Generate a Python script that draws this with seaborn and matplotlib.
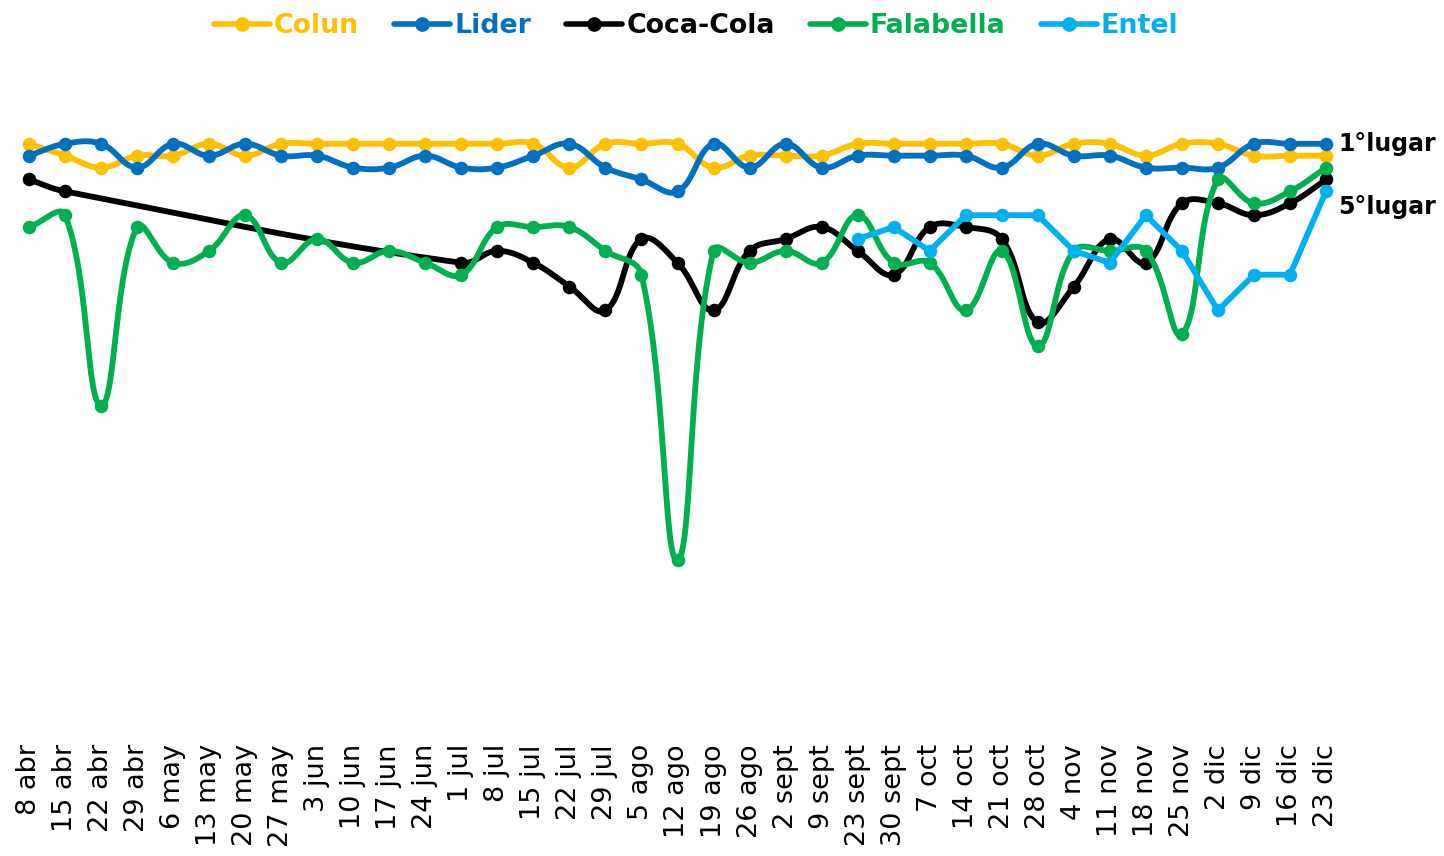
import numpy as np
import pandas as pd
import matplotlib
matplotlib.use("Agg")
import matplotlib.pyplot as plt
import seaborn as sns
from matplotlib.lines import Line2D

# -------------------
# DATA (weekly ranking position, 1 = first place)
# -------------------
weeks = ["8 abr", "15 abr", "22 abr", "29 abr", "6 may", "13 may", "20 may", "27 may",
         "3 jun", "10 jun", "17 jun", "24 jun", "1 jul", "8 jul", "15 jul", "22 jul",
         "29 jul", "5 ago", "12 ago", "19 ago", "26 ago", "2 sept", "9 sept", "23 sept",
         "30 sept", "7 oct", "14 oct", "21 oct", "28 oct", "4 nov", "11 nov", "18 nov",
         "25 nov", "2 dic", "9 dic", "16 dic", "23 dic"]

nan = np.nan
colun = [1, 2, 3, 2, 2, 1, 2, 1, 1, 1, 1, 1, 1, 1, 1, 3, 1, 1, 1, 3, 2, 2, 2, 1,
         1, 1, 1, 1, 2, 1, 1, 2, 1, 1, 2, 2, 2]
lider = [2, 1, 1, 3, 1, 2, 1, 2, 2, 3, 3, 2, 3, 3, 2, 1, 3, 4, 5, 1, 3, 1, 3, 2,
         2, 2, 2, 3, 1, 2, 2, 3, 3, 3, 1, 1, 1]
coca_cola = [4, 5, nan, nan, nan, nan, nan, nan, nan, nan, nan, nan, 11, 10, 11, 13,
             15, 9, 11, 15, 10, 9, 8, 10, 12, 8, 8, 9, 16, 13, 9, 11, 6, 6, 7, 6, 4]
falabella = [8, 7, 23, 8, 11, 10, 7, 11, 9, 11, 10, 11, 12, 8, 8, 8, 10, 12, 36, 10,
             11, 10, 11, 7, 11, 11, 15, 10, 18, 10, 10, 10, 17, 4, 6, 5, 3]
entel = [nan] * 23 + [9, 8, 10, 7, 7, 7, 10, 11, 7, 10, 15, 12, 12, 5]

brands = ["Colun", "Lider", "Coca-Cola", "Falabella", "Entel"]
series = [colun, lider, coca_cola, falabella, entel]
colors = ["#FFC000", "#0070C0", "#000000", "#00B050", "#00B0F0"]
tensions = [0.4, 0.4, 0.4, 0.4, 0.0]   # Entel is drawn with straight segments


# -------------------
# SMOOTH CURVE (bezier with tension, like the original chart)
# -------------------
def smooth(x, y, tension=0.4, sx=36.0, sy=11.9, steps=30):
    p = np.column_stack([np.asarray(x, float) * sx, np.asarray(y, float) * sy])
    n = len(p)
    cp_in = p.copy()
    cp_out = p.copy()
    for i in range(n):
        prev = p[i - 1] if i > 0 else p[i]
        nxt = p[i + 1] if i < n - 1 else p[i]
        d01 = np.hypot(*(p[i] - prev))
        d12 = np.hypot(*(nxt - p[i]))
        tot = d01 + d12
        s01 = d01 / tot if tot else 0
        s12 = d12 / tot if tot else 0
        cp_in[i] = p[i] - tension * s01 * (nxt - prev)
        cp_out[i] = p[i] + tension * s12 * (nxt - prev)
    t = np.linspace(0, 1, steps)[:, None]
    pts = [p[:1]]
    for i in range(n - 1):
        b = ((1 - t) ** 3 * p[i] + 3 * (1 - t) ** 2 * t * cp_out[i]
             + 3 * (1 - t) * t ** 2 * cp_in[i + 1] + t ** 3 * p[i + 1])
        pts.append(b[1:])
    pts = np.vstack(pts)
    return pts[:, 0] / sx, pts[:, 1] / sy


# -------------------
# PLOT
# -------------------
sns.set_theme(style="white")
plt.rcParams["font.family"] = ["DejaVu Sans"]

fig = plt.figure(figsize=(14.44, 8.56), dpi=100)
ax = fig.add_axes([29 / 1444, 116 / 856, 1297 / 1444, 670 / 856])

for k, (name, vals, col, ten) in enumerate(zip(brands, series, colors, tensions)):
    df = pd.DataFrame({"week": np.arange(len(weeks)), "rank": vals}).dropna()
    cx, cy = smooth(df["week"].values, df["rank"].values, tension=ten)
    curve = pd.DataFrame({"x": cx, "y": cy})
    sns.lineplot(data=curve, x="x", y="y", sort=False, estimator=None, color=col,
                 lw=4.2, ax=ax, legend=False, zorder=2 + 2 * k, clip_on=False)
    sns.scatterplot(data=df, x="week", y="rank", color=col, s=95, linewidth=0,
                    ax=ax, legend=False, zorder=3 + 2 * k, clip_on=False)

ax.set_xlim(0, len(weeks) - 1)
ax.set_ylim(51.1, -5.2)
ax.set_xticks(range(len(weeks)))
ax.set_xticklabels(weeks, rotation=90, fontsize=19.5, color="black")
ax.tick_params(axis="x", length=0, pad=3)
ax.set_yticks([])
ax.set_xlabel("")
ax.set_ylabel("")
for s in ax.spines.values():
    s.set_visible(False)

ax.annotate("1°lugar", xy=(len(weeks) - 1, 1), xytext=(9, 0), textcoords="offset points",
            ha="left", va="center", fontsize=17, fontweight="bold", color="black",
            annotation_clip=False)
ax.annotate("5°lugar", xy=(len(weeks) - 1, 5), xytext=(9, -11.5), textcoords="offset points",
            ha="left", va="center", fontsize=17, fontweight="bold", color="black",
            annotation_clip=False)

handles = [Line2D([], [], color=c, lw=4, marker="o", markersize=9.5) for c in colors]
leg = fig.legend(handles, brands, loc="center", bbox_to_anchor=(0.482, 1 - 26 / 856),
                 ncol=5, frameon=False, handlelength=2.1, handletextpad=0.15,
                 columnspacing=1.3, prop={"weight": "bold", "size": 19.3})
for txt, c in zip(leg.get_texts(), colors):
    txt.set_color(c)

plt.savefig("out.png", dpi=100)
